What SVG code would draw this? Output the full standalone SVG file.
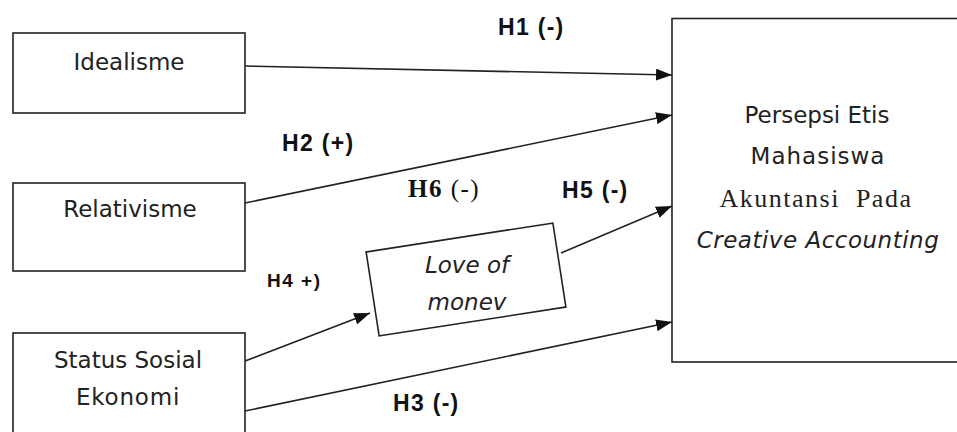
<svg xmlns="http://www.w3.org/2000/svg" width="957" height="432" viewBox="0 0 957 432">
<style>
.box{fill:#fff;stroke:#222;stroke-width:1.6}
.t{font-family:"DejaVu Sans",sans-serif;font-size:23px;fill:#222;text-anchor:middle}
.it{font-style:italic}
.serif{font-family:"Liberation Serif",serif;font-size:26px;letter-spacing:1.5px}
.lbl{font-family:"Liberation Sans",sans-serif;font-weight:bold;font-size:23px;fill:#111;letter-spacing:1.3px}
.c{stroke:#222;stroke-width:1.6;fill:none;marker-end:url(#ah)}
</style>
<defs>
<marker id="ah" viewBox="0 0 16 12" refX="16" refY="6" markerWidth="16" markerHeight="12" markerUnits="userSpaceOnUse" orient="auto">
<path d="M0,0 L16,6 L0,12 Z" fill="#111"/>
</marker>
</defs>
<rect width="957" height="432" fill="#fff"/>
<g id="connectors">
<line class="c" x1="245" y1="66" x2="672" y2="75"/>
<line class="c" x1="245" y1="203" x2="672" y2="115"/>
<line class="c" x1="245" y1="361" x2="370" y2="313"/>
<line class="c" x1="561" y1="253" x2="672" y2="206"/>
<line class="c" x1="245" y1="411" x2="672" y2="322"/>
</g>
<g id="idealisme">
<rect class="box" x="13" y="33" width="232" height="80"/>
<text class="t" x="129" y="70">Idealisme</text>
</g>
<g id="relativisme">
<rect class="box" x="13" y="183" width="232" height="88"/>
<text class="t" x="130" y="217">Relativisme</text>
</g>
<g id="status">
<rect class="box" x="13" y="333" width="232" height="110"/>
<text class="t" x="128" y="368">Status Sosial</text>
<text class="t" x="128" y="405" style="letter-spacing:0.8px">Ekonomi</text>
</g>
<g id="love">
<rect class="box" x="371.5" y="237" width="189" height="85" transform="rotate(-8.8 466 279.5)"/>
<text class="t it" x="467" y="273">Love of</text>
<text class="t it" x="467" y="310">monev</text>
</g>
<g id="persepsi">
<rect class="box" x="672" y="18.5" width="300" height="343.5"/>
<text class="t" x="817" y="123">Persepsi Etis</text>
<text class="t" x="818" y="164" style="letter-spacing:1px">Mahasiswa</text>
<text class="t serif" x="816" y="207" xml:space="preserve">Akuntansi  Pada</text>
<text class="t it" x="818" y="248" style="letter-spacing:0.5px">Creative Accounting</text>
</g>
<g id="labels">
<text class="lbl" x="498" y="35">H1 (-)</text>
<text class="lbl" x="282" y="151">H2 (+)</text>
<text x="408" y="197" style="font-family:'Liberation Serif',serif;font-size:25px;fill:#111;letter-spacing:1.5px"><tspan font-weight="bold">H6</tspan> (-)</text>
<text class="lbl" x="562" y="198">H5 (-)</text>
<text class="lbl" x="267" y="287" style="font-size:19px;letter-spacing:1.5px">H4 +)</text>
<text class="lbl" x="393" y="411">H3 (-)</text>
</g>
</svg>
